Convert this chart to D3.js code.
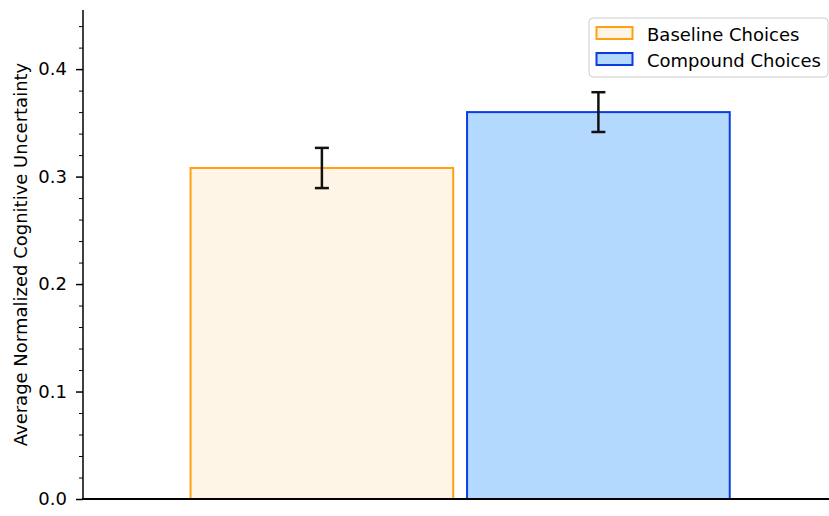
<!DOCTYPE html>
<html>
<head>
<meta charset="utf-8">
<script src="https://cdn.jsdelivr.net/npm/d3@7"></script>
<style>
  body { margin: 0; background: #fff; }
  text { font-family: "DejaVu Sans", sans-serif; }
</style>
</head>
<body>
<div id="wrapper"></div>
<script>
const categories = ["Baseline Choices", "Compound Choices"];
const means = [0.308, 0.360];
const errors = [0.0187, 0.0185];
const yTicks = [0.0, 0.1, 0.2, 0.3, 0.4];
const fills = ["#fef5e6", "#b3d9fe"];
const edges = ["#ffa010", "#0a3ce0"];

const W = 829, H = 516;
var svg = d3.select("#wrapper").append("svg").attr("width", W).attr("height", H);

// x in bar-index units, y in value units
var x = d3.scaleLinear().domain([-0.864, 1.834]).range([83, 829]);
var y = d3.scaleLinear().domain([0, 0.455]).range([499, 10]);
const barW = 0.95;

// bars
svg.selectAll(".bar")
  .data(means)
  .enter().append("rect")
  .attr("class", "bar")
  .attr("x", (d, i) => x(i - barW / 2))
  .attr("width", x(barW) - x(0))
  .attr("y", d => y(d))
  .attr("height", d => y(0) - y(d))
  .style("fill", (d, i) => fills[i])
  .style("stroke", (d, i) => edges[i])
  .style("stroke-width", 2);

// error bars
var eb = svg.selectAll(".err").data(means).enter().append("g").attr("class", "err")
  .style("stroke", "#111").style("stroke-width", 2.5);
eb.append("line")
  .attr("x1", (d, i) => x(i)).attr("x2", (d, i) => x(i))
  .attr("y1", (d, i) => y(d + errors[i])).attr("y2", (d, i) => y(d - errors[i]));
eb.append("line")
  .attr("x1", (d, i) => x(i) - 7).attr("x2", (d, i) => x(i) + 7)
  .attr("y1", (d, i) => y(d + errors[i])).attr("y2", (d, i) => y(d + errors[i]));
eb.append("line")
  .attr("x1", (d, i) => x(i) - 7).attr("x2", (d, i) => x(i) + 7)
  .attr("y1", (d, i) => y(d - errors[i])).attr("y2", (d, i) => y(d - errors[i]));

// y axis with minor ticks
var minor = d3.range(0, 0.455, 0.02).filter(v => Math.abs(v * 10 - Math.round(v * 10)) > 1e-6);
svg.append("g").attr("transform", "translate(83,0)")
  .call(d3.axisLeft(y).tickValues(minor).tickSize(4).tickFormat(""))
  .call(g => g.select(".domain").remove())
  .selectAll("line").style("stroke-width", 1);
var yAxis = svg.append("g").attr("transform", "translate(83,0)")
  .call(d3.axisLeft(y).tickValues(yTicks).tickSize(7).tickPadding(9).tickFormat(d3.format(".1f")).tickSizeOuter(0));
yAxis.select(".domain").style("stroke-width", 1.5).attr("d", "M0," + y(0.455) + "V" + y(0));
yAxis.selectAll("line").style("stroke-width", 1.5);
yAxis.selectAll("text").style("font-size", "18px").style("fill", "#000").attr("font-family", "DejaVu Sans");

// x axis (bottom spine only)
svg.append("line")
  .attr("x1", 82).attr("x2", 829).attr("y1", y(0)).attr("y2", y(0))
  .style("stroke", "#000").style("stroke-width", 1.8);

// y label
svg.append("text")
  .attr("transform", "translate(27," + ((y(0) + y(0.455)) / 2) + ") rotate(-90)")
  .attr("text-anchor", "middle")
  .style("font-size", "18px")
  .text("Average Normalized Cognitive Uncertainty");

// legend
var lg = svg.append("g").attr("transform", "translate(589,18)");
lg.append("rect").attr("width", 239).attr("height", 59).attr("rx", 4)
  .style("fill", "#fff").style("fill-opacity", 0.8).style("stroke", "#cccccc").style("stroke-width", 1);
categories.forEach(function(c, i) {
  var row = lg.append("g").attr("transform", "translate(0," + (i * 26) + ")");
  row.append("rect").attr("x", 7.5).attr("y", 9).attr("width", 36).attr("height", 12)
    .style("fill", fills[i]).style("stroke", edges[i]).style("stroke-width", 2);
  row.append("text").attr("x", 58).attr("y", 22.5).style("font-size", "18px").text(c);
});
</script>
</body>
</html>
